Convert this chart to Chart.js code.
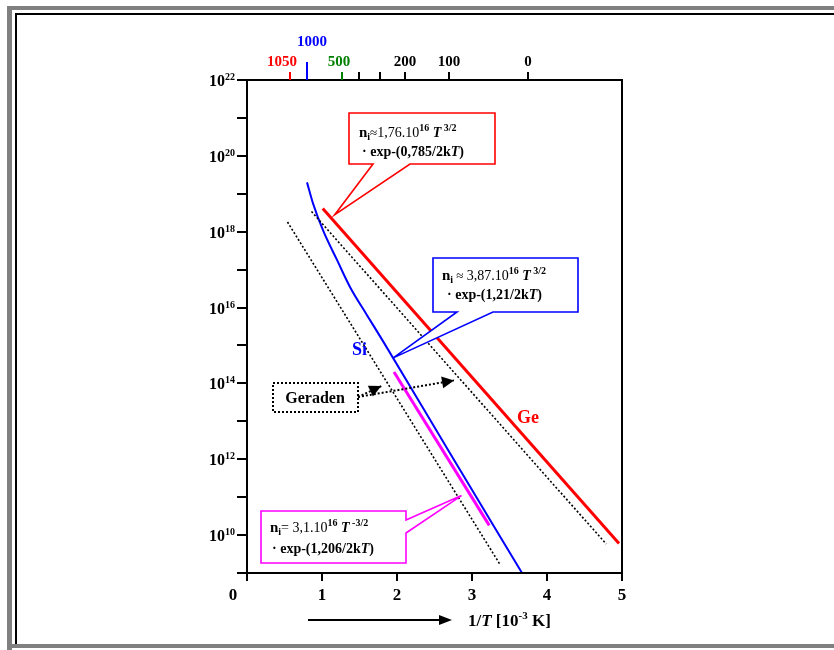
<!DOCTYPE html>
<html>
<head>
<meta charset="utf-8">
<script src="https://cdn.jsdelivr.net/npm/chart.js@4.4.1/dist/chart.umd.min.js"></script>
<style>
  body { margin: 0; background: #fff; }
  canvas { display: block; }
</style>
</head>
<body>
<canvas id="chart" width="834" height="650"></canvas>
<script>
// 1/T in 10^-3 1/K  -> intrinsic carrier density n_i in cm^-3
const siX = [0.80, 0.88, 1.013, 1.20, 1.373, 1.60, 1.813, 2.667, 3.667];
const siY = [2.0e19, 5.6e18, 1.1e18, 1.8e17, 3.5e16, 6.3e15, 1.3e15, 1.95e12, 1.0e9];
const geX = [1.01, 4.96];
const geY = [4.1e18, 6.0e9];
const siFitX = [1.96, 3.23];
const siFitY = [2.0e14, 1.8e10];
const lineAX = [0.54, 3.38];
const lineAY = [1.8e18, 1.6e9];
const lineBX = [0.86, 4.79];
const lineBY = [3.4e18, 5.8e9];

const xTicks = [0, 1, 2, 3, 4, 5];
const yDecades = [9, 10, 11, 12, 13, 14, 15, 16, 17, 18, 19, 20, 21, 22];
const yLabelExps = [10, 12, 14, 16, 18, 20, 22];
// top axis: temperature in degC placed at its 1/T position
const topTickX = [0.573, 0.80, 1.267, 1.493, 1.773, 2.107, 2.693, 3.747];
const topTickLabels = ['1050', '1000', '500', '', '', '200', '100', '0'];
const topTickColors = ['#ff0000', '#0000ff', '#008000', '#000', '#000', '#000', '#000', '#000'];

const pts = (xs, ys) => xs.map((x, i) => ({ x: x, y: ys[i] }));
const SERIF = '"Liberation Serif", "Times New Roman", serif';

function font(p) {
    return (p.i ? 'italic ' : '') + (p.b ? 'bold ' : '') + p.s + 'px ' + SERIF;
}
function richWidth(ctx, parts) {
    let w = 0;
    parts.forEach(p => { ctx.font = font(p); w += ctx.measureText(p.t).width; });
    return w;
}
function rich(ctx, x, y, parts, color) {
    ctx.fillStyle = color;
    ctx.textBaseline = 'alphabetic';
    ctx.textAlign = 'left';
    parts.forEach(p => {
        ctx.font = font(p);
        ctx.fillText(p.t, x, y + (p.dy || 0));
        x += ctx.measureText(p.t).width;
    });
}
function arrowHead(ctx, x0, y0, x1, y1, len, half) {
    const a = Math.atan2(y1 - y0, x1 - x0);
    ctx.beginPath();
    ctx.moveTo(x1, y1);
    ctx.lineTo(x1 - len * Math.cos(a) + half * Math.sin(a), y1 - len * Math.sin(a) - half * Math.cos(a));
    ctx.lineTo(x1 - len * Math.cos(a) - half * Math.sin(a), y1 - len * Math.sin(a) + half * Math.cos(a));
    ctx.closePath();
    ctx.fill();
}

const decorations = {
    id: 'decorations',
    afterDraw(chart) {
        const ctx = chart.ctx;
        const xs = chart.scales.x, ys = chart.scales.y;
        const a = chart.chartArea;
        ctx.save();

        // outer page frame
        ctx.fillStyle = '#808080';
        ctx.fillRect(7, 6, 827, 4);
        ctx.fillRect(7, 6, 5, 644);
        ctx.fillRect(7, 644, 827, 4);
        ctx.fillStyle = '#000';
        ctx.fillRect(15, 13, 819, 2);
        ctx.fillRect(15, 13, 2, 631);

        // plot box
        ctx.strokeStyle = '#000';
        ctx.lineWidth = 2;
        ctx.strokeRect(a.left, a.top, a.right - a.left, a.bottom - a.top);

        // left ticks + labels
        yDecades.forEach(e => {
            const y = Math.round(ys.getPixelForValue(Math.pow(10, e)));
            ctx.beginPath();
            ctx.moveTo(a.left - 10, y);
            ctx.lineTo(a.left, y);
            ctx.stroke();
        });
        yLabelExps.forEach(e => {
            const y = ys.getPixelForValue(Math.pow(10, e));
            const parts = [{ t: '10', b: 1, s: 16 }, { t: String(e), b: 1, s: 10, dy: -6 }];
            const w = richWidth(ctx, parts);
            rich(ctx, a.left - 12 - w, y + 6, parts, '#000');
        });

        // bottom ticks + labels
        xTicks.forEach(v => {
            const x = Math.round(xs.getPixelForValue(v));
            ctx.beginPath();
            ctx.moveTo(x, a.bottom);
            ctx.lineTo(x, a.bottom + 8);
            ctx.stroke();
            ctx.font = 'bold 17px ' + SERIF;
            ctx.textAlign = 'center';
            ctx.textBaseline = 'alphabetic';
            ctx.fillStyle = '#000';
            ctx.fillText(String(v), x - (v === 0 ? 14 : 0), a.bottom + 27);
        });

        // top temperature ticks + labels
        const topNudge = { '1050': -8, '1000': 5, '500': -3 };
        topTickX.forEach((v, i) => {
            const x = Math.round(xs.getPixelForValue(v));
            const lab = topTickLabels[i];
            ctx.strokeStyle = topTickColors[i];
            ctx.beginPath();
            ctx.moveTo(x, a.top);
            ctx.lineTo(x, a.top - (lab === '1000' ? 18 : 8));
            ctx.stroke();
            if (lab) {
                ctx.font = 'bold 15px ' + SERIF;
                ctx.textAlign = 'center';
                ctx.fillStyle = topTickColors[i];
                ctx.fillText(lab, x + (topNudge[lab] || 0), lab === '1000' ? a.top - 34 : a.top - 14);
            }
        });

        // x axis title with arrow
        ctx.strokeStyle = '#000';
        ctx.fillStyle = '#000';
        ctx.lineWidth = 2;
        ctx.beginPath();
        ctx.moveTo(308, 620);
        ctx.lineTo(442, 620);
        ctx.stroke();
        arrowHead(ctx, 308, 620, 452, 620, 13, 5);
        rich(ctx, 468, 626, [
            { t: '1/', b: 1, s: 17 }, { t: 'T', b: 1, i: 1, s: 17 }, { t: ' [10', b: 1, s: 17 },
            { t: '-3', b: 1, s: 11, dy: -7 }, { t: ' K]', b: 1, s: 17 }
        ], '#000');

        // series labels
        ctx.textAlign = 'left';
        ctx.font = 'bold 18px ' + SERIF;
        ctx.fillStyle = '#ff0000';
        ctx.fillText('Ge', 517, 423);
        ctx.fillStyle = '#0000ff';
        ctx.fillText('Si', 352, 355);

        // callout boxes
        function callout(box, base, tip, color) {
            ctx.strokeStyle = color;
            ctx.lineWidth = 1.6;
            ctx.fillStyle = '#fff';
            ctx.beginPath();
            ctx.moveTo(box[0], box[1]);
            ctx.lineTo(box[2], box[1]);
            if (base.side === 'right') {
                ctx.lineTo(box[2], base.a);
                ctx.lineTo(tip[0], tip[1]);
                ctx.lineTo(box[2], base.b);
                ctx.lineTo(box[2], box[3]);
                ctx.lineTo(box[0], box[3]);
            } else {
                ctx.lineTo(box[2], box[3]);
                ctx.lineTo(base.b, box[3]);
                ctx.lineTo(tip[0], tip[1]);
                ctx.lineTo(base.a, box[3]);
                ctx.lineTo(box[0], box[3]);
            }
            ctx.closePath();
            ctx.fill();
            ctx.stroke();
        }
        const px = (x, y) => [xs.getPixelForValue(x), ys.getPixelForValue(y)];

        callout([349, 113, 495, 164], { a: 373, b: 410 }, px(1.17, 2.8e18), '#ff0000');
        rich(ctx, 359, 137, [
            { t: 'n', b: 1, s: 15 }, { t: 'i', b: 1, s: 10, dy: 3 }, { t: '\u2248', s: 13 },
            { t: '1,76.10', s: 14 }, { t: '16', b: 1, s: 10, dy: -6 }, { t: ' T', b: 1, i: 1, s: 14 },
            { t: ' 3/2', b: 1, s: 10, dy: -6 }
        ], '#000');
        rich(ctx, 362, 156, [
            { t: '\u00b7 exp-(0,785/2k', b: 1, s: 14 }, { t: 'T', b: 1, i: 1, s: 14 }, { t: ')', b: 1, s: 14 }
        ], '#000');

        callout([433, 258, 578, 312], { a: 457, b: 493 }, px(1.95, 4.7e14), '#0000ff');
        rich(ctx, 442, 280, [
            { t: 'n', b: 1, s: 15 }, { t: 'i', b: 1, s: 10, dy: 3 }, { t: ' \u2248 ', s: 13 },
            { t: '3,87.10', s: 14 }, { t: '16', b: 1, s: 10, dy: -6 }, { t: ' T', b: 1, i: 1, s: 14 },
            { t: ' 3/2', b: 1, s: 10, dy: -6 }
        ], '#000');
        rich(ctx, 447, 299, [
            { t: '\u00b7 exp-(1,21/2k', b: 1, s: 14 }, { t: 'T', b: 1, i: 1, s: 14 }, { t: ')', b: 1, s: 14 }
        ], '#000');

        callout([261, 511, 406, 563], { side: 'right', a: 520, b: 533 }, px(2.86, 1.1e11), '#ff00ff');
        rich(ctx, 270, 532, [
            { t: 'n', b: 1, s: 15 }, { t: 'i', b: 1, s: 10, dy: 3 }, { t: '= 3,1.10', s: 14 },
            { t: '16', b: 1, s: 10, dy: -6 }, { t: ' T', b: 1, i: 1, s: 14 },
            { t: ' -3/2', b: 1, s: 10, dy: -6 }
        ], '#000');
        rich(ctx, 272, 553, [
            { t: '\u00b7 exp-(1,206/2k', b: 1, s: 14 }, { t: 'T', b: 1, i: 1, s: 14 }, { t: ')', b: 1, s: 14 }
        ], '#000');

        // "Geraden" box with dotted arrows
        ctx.strokeStyle = '#000';
        ctx.fillStyle = '#000';
        ctx.lineWidth = 2;
        ctx.setLineDash([2, 2]);
        ctx.strokeRect(273, 383, 85, 29);
        const t1 = px(1.79, 8.5e13), t2 = px(2.76, 1.2e14);
        [t1, t2].forEach(t => {
            ctx.beginPath();
            ctx.moveTo(358, 397);
            ctx.lineTo(t[0], t[1]);
            ctx.stroke();
        });
        ctx.setLineDash([]);
        arrowHead(ctx, 358, 397, t1[0], t1[1], 12, 6);
        arrowHead(ctx, 358, 397, t2[0], t2[1], 12, 6);
        ctx.font = 'bold 16px ' + SERIF;
        ctx.textAlign = 'center';
        ctx.fillText('Geraden', 315, 403);

        ctx.restore();
    }
};

new Chart(document.getElementById('chart'), {
    type: 'line',
    data: {
        datasets: [
            { label: 'Gerade A', data: pts(lineAX, lineAY), borderColor: '#000', borderWidth: 1.6, borderDash: [2, 2] },
            { label: 'Gerade B', data: pts(lineBX, lineBY), borderColor: '#000', borderWidth: 1.6, borderDash: [2, 2] },
            { label: 'Ge', data: pts(geX, geY), borderColor: '#ff0000', borderWidth: 3 },
            { label: 'Si fit', data: pts(siFitX, siFitY), borderColor: '#ff00ff', borderWidth: 3 },
            { label: 'Si', data: pts(siX, siY), borderColor: '#0000ff', borderWidth: 2, cubicInterpolationMode: 'monotone' }
        ]
    },
    options: {
        responsive: false,
        animation: false,
        clip: false,
        layout: { padding: { left: 247, top: 80, right: 212, bottom: 77 } },
        elements: { point: { radius: 0 } },
        plugins: { legend: { display: false }, tooltip: { enabled: false } },
        scales: {
            x: { type: 'linear', min: 0, max: 5, display: false },
            y: { type: 'logarithmic', min: 1e9, max: 1e22, display: false }
        }
    },
    plugins: [decorations]
});
</script>
</body>
</html>
